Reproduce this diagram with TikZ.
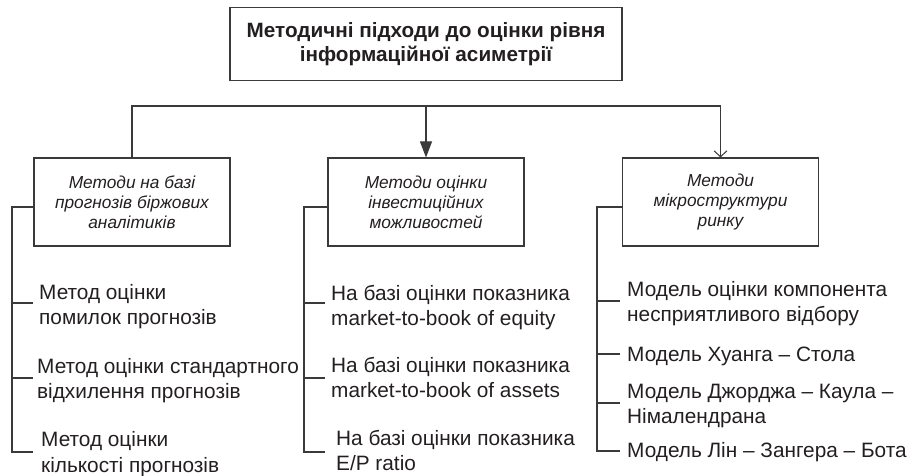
\documentclass[tikz,border=0pt]{standalone}
\usepackage{fontspec}
\setmainfont{Liberation Sans}
\usetikzlibrary{arrows.meta}
\definecolor{ink}{HTML}{231F20}
\definecolor{ln}{HTML}{3A3A3A}
\begin{document}
\begin{tikzpicture}[x=1pt,y=-1pt,
  every node/.style={text=ink},
  topbox/.style={draw=ln,line width=1.1pt,minimum width=392pt,minimum height=73pt,
    align=center,font=\fontsize{20.7}{24.4}\selectfont\bfseries,inner sep=0pt},
  catbox/.style={draw=ln,line width=1.1pt,minimum width=196pt,minimum height=88pt,
    align=center,font=\fontsize{17.3}{20}\selectfont\itshape,inner sep=0pt},
  item/.style={anchor=base west,align=left,inner sep=0pt,
    font=\fontsize{20.8}{25.5}\selectfont},
  conn/.style={draw=ln,line width=1.1pt}
]
\useasboundingbox (0,0) rectangle (911,476);
% top
\node[topbox] (top) at (426,44) {Методичні підходи до оцінки рівня\\інформаційної асиметрії};
% categories
\node[catbox] (b1) at (132,202) {Методи на базі\\прогнозів біржових\\аналітиків};
\node[catbox] (b2) at (426,202) {Методи оцінки\\інвестиційних\\можливостей};
\node[catbox] (b3) at (720.5,202) {Методи\\мікроструктури\\ринку};
% bus
\coordinate (bus) at (0,106);
\draw[conn] (b1.north) -- (b1.north |- bus) -- (b3.north |- bus);
\draw[conn,-{Triangle[length=16pt,width=12pt]}] (b2.north |- bus) -- (b2.north);
\draw[conn,-{Straight Barb[length=6pt,width=13pt,line width=1pt]}] (b3.north |- bus) -- (b3.north);
% left column
\node[item] (l1) at (39,324.5) {Метод оцінки\\помилок прогнозів};
\node[item] (l2) at (37,398.5) {Метод оцінки стандартного\\відхилення прогнозів};
\node[item] (l3) at (41,472) {Метод оцінки\\кількості прогнозів};
\coordinate (l1e) at (33,303);
\coordinate (l2e) at (33,378);
\coordinate (l3e) at (33,452);
\coordinate (lv) at (12,207);
\draw[conn] (b1.west |- lv) -- (lv) |- (l3e);
\draw[conn] (lv |- l1e) -- (l1e);
\draw[conn] (lv |- l2e) -- (l2e);
% middle column
\node[item] (m1) at (331,325.5) {На базі оцінки показника\\market-to-book of equity};
\node[item] (m2) at (331,397.5) {На базі оцінки показника\\market-to-book of assets};
\node[item] (m3) at (336,470.5) {На базі оцінки показника\\E/P ratio};
\coordinate (m1e) at (325,303);
\coordinate (m2e) at (325,378);
\coordinate (m3e) at (325,452);
\coordinate (mv) at (304,207);
\draw[conn] (b2.west |- mv) -- (mv) |- (m3e);
\draw[conn] (mv |- m1e) -- (m1e);
\draw[conn] (mv |- m2e) -- (m2e);
% right column
\node[item] (r1) at (627,321.5) {Модель оцінки компонента\\несприятливого відбору};
\node[item] (r2) at (627,361) {Модель Хуанга – Стола};
\node[item] (r3) at (627,423.5) {Модель Джорджа – Каула –\\Німалендрана};
\node[item] (r4) at (627,457) {Модель Лін – Зангера – Бота};
\coordinate (r1e) at (620,301);
\coordinate (r2e) at (620,354);
\coordinate (r3e) at (620,403);
\coordinate (r4e) at (620,451);
\coordinate (rv) at (597,207);
\draw[conn] (b3.west |- rv) -- (rv) |- (r4e);
\draw[conn] (rv |- r1e) -- (r1e);
\draw[conn] (rv |- r2e) -- (r2e);
\draw[conn] (rv |- r3e) -- (r3e);
\end{tikzpicture}
\end{document}
